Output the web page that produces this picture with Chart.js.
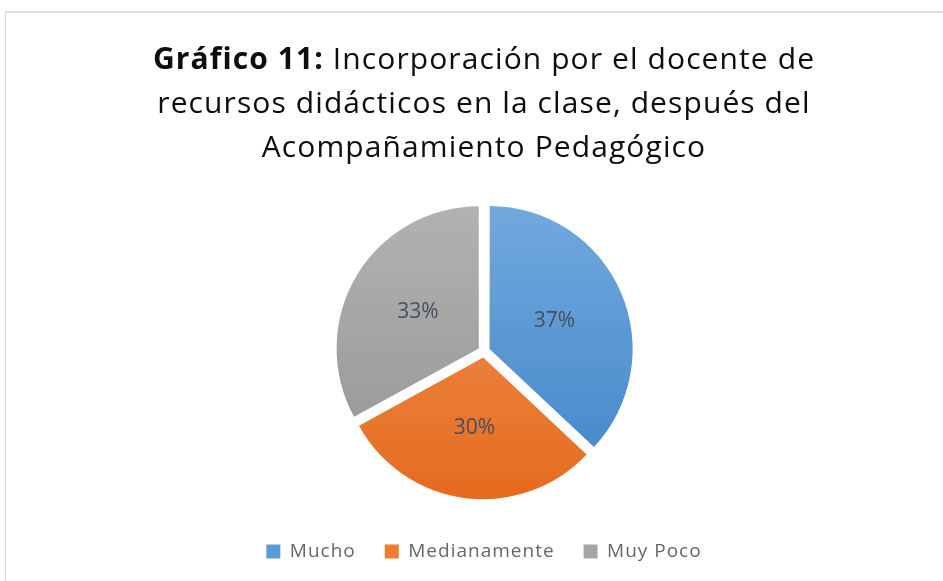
<!DOCTYPE html>
<html>
<head>
<meta charset="utf-8">
<script src="https://cdn.jsdelivr.net/npm/chart.js@4.4.1/dist/chart.umd.min.js"></script>
<style>
  html, body { margin: 0; padding: 0; background: #fff; }
  #wrap { position: relative; width: 943px; height: 581px; overflow: hidden; }
  #frame { position: absolute; left: 5px; top: 11px; right: 0; bottom: 0;
           border-top: 2px solid #dde2e9; border-left: 1px solid #dadada; }
  #title { position: absolute; left: 25px; right: 0; top: 36px; text-align: center;
           font-family: "Open Sans", sans-serif; font-size: 30px; line-height: 44px;
           letter-spacing: 1.1px; color: #0d0d0d; }
  #title b { font-weight: 700; }
  canvas { position: absolute; left: 0; top: 0; }
</style>
</head>
<body>
<div id="wrap">
  <div id="frame"></div>
  <canvas id="pieChart" width="943" height="581"></canvas>
  <div id="title"><b>Gráfico 11:</b> Incorporación por el docente de<br>recursos didácticos en la clase, después del<br>Acompañamiento Pedagógico</div>
</div>
<script>
const categories = ["Mucho", "Medianamente", "Muy Poco"];
const percentages = [37, 30, 33];

const legendColors = ["#5b9bd5", "#ed7d31", "#a5a5a5"];
const topColors = ["#73aadf", "#f39659", "#b3b3b3"];
const bottomColors = ["#3f84c7", "#e4691b", "#939393"];

// percentage text in the middle of each slice
const sliceLabels = {
  id: "sliceLabels",
  afterDatasetsDraw(chart) {
    const c = chart.ctx;
    const meta = chart.getDatasetMeta(0);
    c.save();
    c.letterSpacing = "0px";
    c.font = '21px "Open Sans"';
    c.fillStyle = "#454f5e";
    c.textAlign = "center";
    c.textBaseline = "middle";
    meta.data.forEach(function (arc, i) {
      const p = arc.getProps(["x", "y", "startAngle", "endAngle", "outerRadius"], true);
      const mid = (p.startAngle + p.endAngle) / 2;
      const d = p.outerRadius / 2 + arc.options.offset / 4;
      c.fillText(percentages[i] + "%", p.x + Math.cos(mid) * d, p.y + Math.sin(mid) * d);
    });
    c.restore();
  },
};

// a bit of letter spacing for the legend text only
const legendSpacing = {
  id: "legendSpacing",
  beforeLayout(chart) { chart.ctx.letterSpacing = "1px"; },
  afterLayout(chart) { chart.ctx.letterSpacing = "0px"; },
  beforeDraw(chart) { chart.ctx.letterSpacing = "1px"; },
  beforeDatasetsDraw(chart) { chart.ctx.letterSpacing = "0px"; },
};

const ctx = document.getElementById("pieChart");
new Chart(ctx, {
  type: "pie",
  data: {
    labels: categories,
    datasets: [
      {
        data: percentages,
        backgroundColor: function (context) {
          const chart = context.chart;
          const area = chart.chartArea;
          const i = context.dataIndex;
          if (!area) return legendColors[i];
          const g = chart.ctx.createLinearGradient(0, area.top, 0, area.bottom);
          g.addColorStop(0, topColors[i]);
          g.addColorStop(1, bottomColors[i]);
          return g;
        },
        borderWidth: 0,
        offset: 24,
      },
    ],
  },
  options: {
    responsive: false,
    animation: false,
    layout: {
      padding: { top: 198, bottom: 10, left: 25, right: 0 },
    },
    plugins: {
      legend: {
        position: "bottom",
        title: { display: true, text: "", font: { size: 8, lineHeight: 1 }, padding: 0 },
        labels: {
          boxWidth: 14,
          boxHeight: 14,
          padding: 29,
          color: "#47505e",
          font: { family: "Open Sans", size: 19 },
          generateLabels: function () {
            return categories.map(function (name, i) {
              return {
                text: name,
                fillStyle: legendColors[i],
                strokeStyle: "rgba(0,0,0,0)",
                lineWidth: 0,
                index: i,
                hidden: false,
              };
            });
          },
        },
      },
      tooltip: { enabled: false },
    },
  },
  plugins: [sliceLabels, legendSpacing],
});
</script>
</body>
</html>
